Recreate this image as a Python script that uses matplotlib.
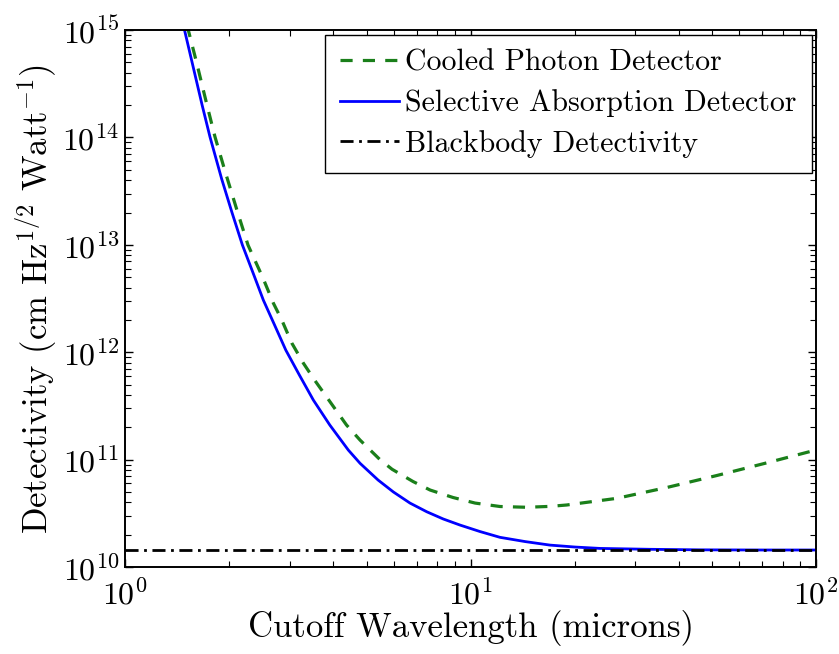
import numpy as np
import matplotlib
matplotlib.use("Agg")
import matplotlib.pyplot as plt

plt.rcParams["font.family"] = ["cmr10", "DejaVu Serif"]
plt.rcParams["mathtext.fontset"] = "cm"
plt.rcParams["axes.formatter.use_mathtext"] = True

# Cutoff wavelength (microns) and detectivity (cm Hz^1/2 / W)
wl_selective = [1.482, 1.563, 1.672, 1.762, 1.904, 2.038, 2.187, 2.36, 2.514,
                2.71, 2.92, 3.196, 3.508, 3.915, 4.43, 4.79, 5.40, 5.98, 6.68,
                7.47, 8.34, 9.32, 10.65, 12.17, 14.38, 16.98, 20.06, 23.7,
                33.1, 46.2, 70.0, 100.0]
d_selective = [1.045e15, 5.04e14, 2.00e14, 1.01e14, 4.12e13, 2.02e13,
               9.95e12, 5.24e12, 3.06e12, 1.79e12, 1.047e12, 6.14e11,
               3.59e11, 2.10e11, 1.227e11, 9.24e10, 6.46e10, 5.0e10,
               3.94e10, 3.27e10, 2.80e10, 2.46e10, 2.14e10, 1.89e10,
               1.726e10, 1.60e10, 1.535e10, 1.49e10, 1.462e10, 1.445e10,
               1.44e10, 1.44e10]

wl_cooled = [1.512, 1.610, 1.727, 1.822, 1.947, 2.117, 2.270, 2.508, 2.687,
             2.842, 3.038, 3.281, 3.537, 4.377, 4.79, 5.47, 5.93, 6.82, 7.64,
             8.90, 10.31, 12.17, 14.55, 16.99, 18.98, 26.5, 36.98, 51.6,
             72.0, 100.0]
d_cooled = [1.11e15, 5.04e14, 2.0e14, 1.01e14, 4.87e13, 2.02e13, 9.95e12,
            4.91e12, 2.87e12, 2.0e12, 1.22e12, 7.93e11, 5.51e11, 2.10e11,
            1.52e11, 1.0e11, 8.13e10, 6.25e10, 5.21e10, 4.44e10, 3.94e10,
            3.66e10, 3.60e10, 3.67e10, 3.78e10, 4.36e10, 5.50e10, 7.11e10,
            9.33e10, 1.23e11]

wl_blackbody = [1.0, 100.0]
d_blackbody = [1.44e10, 1.44e10]

fig = plt.figure(figsize=(8.39, 6.54), dpi=100)
ax = fig.add_axes([0.149, 0.133, 0.8236, 0.821])

ax.plot(wl_cooled, d_cooled, color="#1a7f1a", lw=2.3, ls=(0, (3.8, 3.2)),
        label="Cooled Photon Detector")
ax.plot(wl_selective, d_selective, color="#0000ff", lw=2.0,
        label="Selective Absorption Detector")
ax.plot(wl_blackbody, d_blackbody, color="black", lw=2.0,
        ls=(0, (4.7, 2.0, 1.0, 2.0)), label="Blackbody Detectivity")

ax.set_xscale("log")
ax.set_yscale("log")
ax.set_xlim(1, 100)
ax.set_ylim(1e10, 1e15)

ax.tick_params(which="both", direction="in", top=True, right=True,
               labelsize=23)
ax.tick_params(axis="x", which="major", pad=8)
ax.tick_params(axis="y", which="major", pad=4)
ax.tick_params(which="major", length=6, width=1.0)
ax.tick_params(which="minor", length=4, width=0.8)
for s in ax.spines.values():
    s.set_linewidth(1.4)

ax.set_xlabel("Cutoff Wavelength (microns)", fontsize=25, labelpad=0)
ax.set_ylabel(r"Detectivity (cm Hz$^{1/2}$ Watt$^{-1}$)", fontsize=25,
              labelpad=2)

leg = ax.legend(loc="upper right", fontsize=21.5, fancybox=False,
                framealpha=1, edgecolor="black", handlelength=2.0,
                handletextpad=0.2, borderaxespad=0.15, labelspacing=0.42,
                borderpad=0.5)
leg.get_frame().set_linewidth(1.0)

fig.savefig("out.png", dpi=100)
